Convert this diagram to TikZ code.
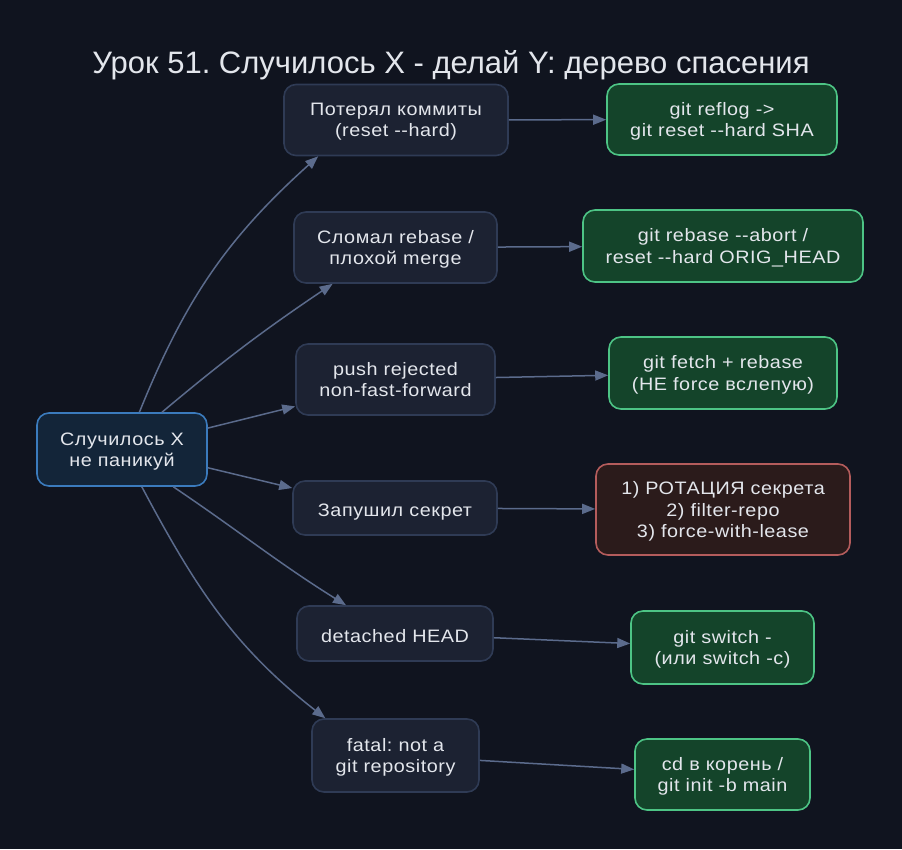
\documentclass[tikz,border=0pt]{standalone}
\usepackage{fontspec}
\setmainfont{Liberation Sans}[Ligatures=TeXOff]
\newfontfamily\boxfont{Liberation Sans}[Ligatures=TeXOff,FakeStretch=1.1,LetterSpace=3]
\usetikzlibrary{arrows.meta}
\frenchspacing

\definecolor{bgc}{HTML}{10141F}
\definecolor{txt}{HTML}{E3E6EC}
\definecolor{edgec}{HTML}{5B6B8C}
\definecolor{errfill}{HTML}{1C2232}
\definecolor{errline}{HTML}{2F3B55}
\definecolor{rootfill}{HTML}{132539}
\definecolor{rootline}{HTML}{3B7BBD}
\definecolor{fixfill}{HTML}{14442A}
\definecolor{fixline}{HTML}{4DC485}
\definecolor{redfill}{HTML}{2B1B1B}
\definecolor{redline}{HTML}{B45C5C}

\tikzset{
  box/.style={rounded corners=12pt, line width=1.6pt, align=center, text=txt,
    font=\boxfont\fontsize{18}{21.5}\selectfont, inner sep=0pt, text depth=-2.5pt,
    execute at begin node={\rule{0pt}{17pt}}},
  root/.style={box, draw=rootline, fill=rootfill},
  err/.style={box, draw=errline, fill=errfill},
  fix/.style={box, draw=fixline, fill=fixfill},
  danger/.style={box, draw=redline, fill=redfill},
  arr/.style={draw=edgec, line width=1.5pt, -{Triangle[length=13pt,width=10pt]}}
}

\begin{document}
\begin{tikzpicture}[x=1pt,y=1pt]
  \fill[bgc] (0,0) rectangle (902,-849);
  \useasboundingbox (0,0) rectangle (902,-849);

  \node[text=txt, font=\fontsize{31}{34}\selectfont] (title) at (451,-65.5) {Урок 51. Случилось X - делай Y: дерево спасения};

  % root
  \node[root, minimum width=170pt, minimum height=73pt] (panic) at (122,-449.5) {Случилось X\\не паникуй};

  % what happened
  \node[err, minimum width=224pt, minimum height=71pt] (lost) at (396,-120) {Потерял коммиты\\(reset --hard)};
  \node[err, minimum width=203pt, minimum height=71pt] (rebase) at (395.5,-247.5) {Сломал rebase /\\плохой merge};
  \node[err, minimum width=199pt, minimum height=71pt] (push) at (395.5,-379.5) {push rejected\\non-fast-forward};
  \node[err, minimum width=204pt, minimum height=54pt] (secret) at (395,-508) {Запушил секрет};
  \node[err, minimum width=196pt, minimum height=55pt] (detached) at (395,-633.5) {detached HEAD};
  \node[err, minimum width=167pt, minimum height=73pt] (norepo) at (395.5,-755.5) {fatal: not a\\git repository};

  % what to do
  \node[fix, minimum width=230pt, minimum height=71pt] (reflog) at (722,-119.5) {git reflog ->\\git reset --hard SHA};
  \node[fix, minimum width=280pt, minimum height=72pt] (abort) at (723,-246) {git rebase --abort /\\reset --hard ORIG\_HEAD};
  \node[fix, minimum width=228pt, minimum height=72pt] (fetch) at (723,-373) {git fetch + rebase\\(НЕ force вслепую)};
  \node[danger, minimum width=254pt, minimum height=91pt] (rotate) at (723,-509.5) {1) РОТАЦИЯ секрета\\2) filter-repo\\3) force-with-lease};
  \node[fix, minimum width=183pt, minimum height=73pt] (switch) at (722.5,-647.5) {git switch -\\(или switch -c)};
  \node[fix, minimum width=175pt, minimum height=71pt] (init) at (722.5,-774.5) {cd в корень /\\git init -b main};

  \draw[arr] (panic.65) to[out=68,in=222] (lost.205);
  \draw[arr] (panic.43) to[out=40,in=214] (rebase.210);
  \draw[arr] (panic.14) -- (push.195);
  \draw[arr] (panic.-12) -- (secret.169);
  \draw[arr] (panic.-36) to[out=-34,in=148] (detached.150);
  \draw[arr] (panic.-62) to[out=-62,in=142] (norepo.152);

  \draw[arr] (lost) -- (reflog);
  \draw[arr] (rebase) -- (abort);
  \draw[arr] (push) -- (fetch);
  \draw[arr] (secret) -- (rotate);
  \draw[arr] (detached) -- (switch);
  \draw[arr] (norepo) -- (init);
\end{tikzpicture}
\end{document}
